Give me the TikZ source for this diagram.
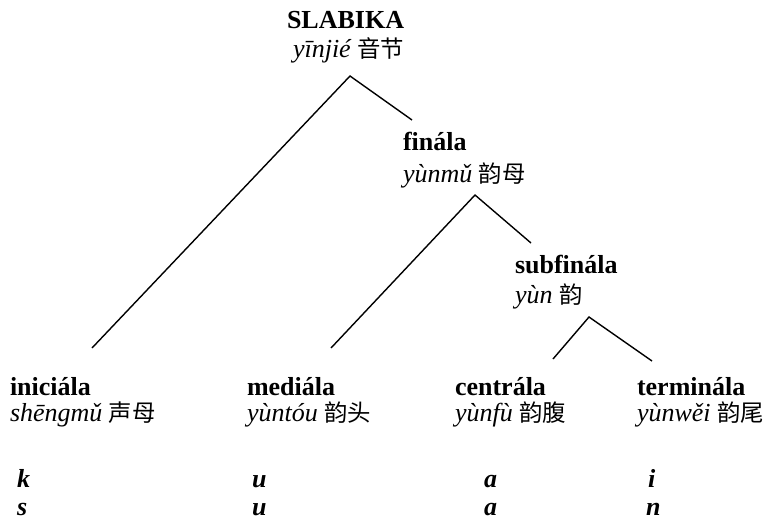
\documentclass[tikz,border=0pt]{standalone}
\usepackage{fontspec}
\setmainfont{Liberation Serif}
\newfontfamily\cjk{Noto Sans CJK SC}[Scale=0.9]
\begin{document}
\begin{tikzpicture}[x=1pt,y=-1pt,
  lbl/.style={anchor=base west,inner sep=0pt,outer sep=0pt,font=\fontsize{26}{30}\selectfont},
  head/.style={lbl,font=\fontsize{26}{30}\selectfont\bfseries},
  pin/.style={lbl,font=\fontsize{26}{30}\selectfont\itshape},
  seg/.style={lbl,font=\fontsize{26}{30}\selectfont\bfseries\itshape},
  branch/.style={line width=1.4pt,line join=miter}]
\useasboundingbox (0,0) rectangle (774,520);
% labels
\node[head] (slab) at (287,28) {SLABIKA};
\node[pin] (slabp) at (293,57) {yīnjié {\upshape\cjk 音节}};
\node[head] (fin) at (403,150) {finála};
\node[pin] (finp) at (403,182) {yùnmǔ {\upshape\cjk 韵母}};
\node[head] (sub) at (515,273) {subfinála};
\node[pin] (subp) at (515,303) {yùn {\upshape\cjk 韵}};
\node[head] (ini) at (10,395) {iniciála};
\node[pin] (inip) at (10,421) {shēngmǔ {\upshape\cjk 声母}};
\node[head] (med) at (247,395) {mediála};
\node[pin] (medp) at (247,421) {yùntóu {\upshape\cjk 韵头}};
\node[head] (cen) at (455,395) {centrála};
\node[pin] (cenp) at (455,421) {yùnfù {\upshape\cjk 韵腹}};
\node[head] (ter) at (637,395) {terminála};
\node[pin] (terp) at (637,421) {yùnwěi {\upshape\cjk 韵尾}};
% segments
\node[seg] (k) at (17,487) {k};
\node[seg] (s) at (17,515) {s};
\node[seg] (u1) at (252,487) {u};
\node[seg] (u2) at (252,515) {u};
\node[seg] (a1) at (484,487) {a};
\node[seg] (a2) at (484,515) {a};
\node[seg] (i1) at (648,487) {i};
\node[seg] (n1) at (646,515) {n};
% branch points
\coordinate (top) at (350,76);
\coordinate (topL) at (92,348);
\coordinate (topR) at (412,120);
\coordinate (mid) at (475,195);
\coordinate (midL) at (331,348);
\coordinate (midR) at (531,243);
\coordinate (low) at (589,317);
\coordinate (lowL) at (553,359);
\coordinate (lowR) at (652,361);
\draw[branch] (topL) -- (top) -- (topR);
\draw[branch] (midL) -- (mid) -- (midR);
\draw[branch] (lowL) -- (low) -- (lowR);
\end{tikzpicture}
\end{document}
